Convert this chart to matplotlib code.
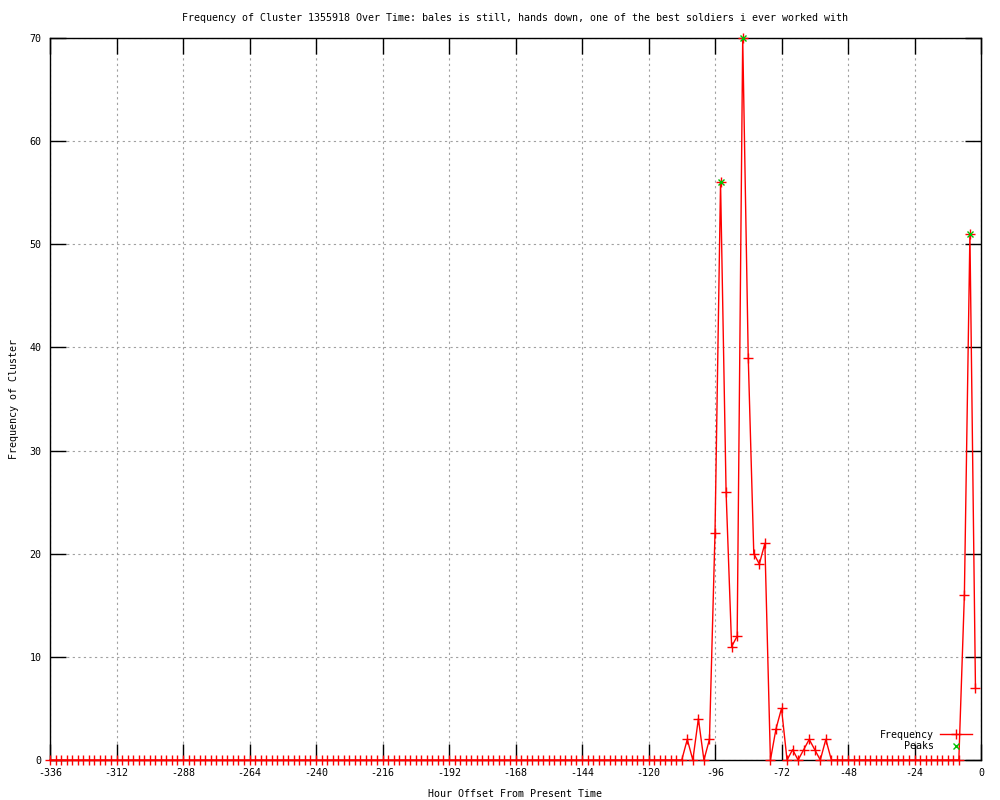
"""Frequency of a cluster over time, gnuplot-style line chart."""
import numpy as np
import matplotlib
matplotlib.use("Agg")
import matplotlib.pyplot as plt

plt.rcParams.update({
    "font.family": "DejaVu Sans Mono",
    "font.size": 7.2,
    "axes.unicode_minus": False,
})

TITLE = ("Frequency of Cluster 1355918 Over Time: bales is still, hands down, "
         "one of the best soldiers i ever worked with")

# hour offsets, every 2 hours from -336 to -2
hours = list(range(-336, 0, 2))

# one row per 24 hours
freq = [
    0, 0, 0, 0, 0, 0, 0, 0, 0, 0, 0, 0,        # -336 .. -314
    0, 0, 0, 0, 0, 0, 0, 0, 0, 0, 0, 0,        # -312 .. -290
    0, 0, 0, 0, 0, 0, 0, 0, 0, 0, 0, 0,        # -288 .. -266
    0, 0, 0, 0, 0, 0, 0, 0, 0, 0, 0, 0,        # -264 .. -242
    0, 0, 0, 0, 0, 0, 0, 0, 0, 0, 0, 0,        # -240 .. -218
    0, 0, 0, 0, 0, 0, 0, 0, 0, 0, 0, 0,        # -216 .. -194
    0, 0, 0, 0, 0, 0, 0, 0, 0, 0, 0, 0,        # -192 .. -170
    0, 0, 0, 0, 0, 0, 0, 0, 0, 0, 0, 0,        # -168 .. -146
    0, 0, 0, 0, 0, 0, 0, 0, 0, 0, 0, 0,        # -144 .. -122
    0, 0, 0, 0, 0, 0, 0, 2, 0, 4, 0, 2,        # -120 .. -98
    22, 56, 26, 11, 12, 70, 39, 20, 19, 21, 0, 3,  # -96 .. -74
    5, 0, 1, 0, 1, 2, 1, 0, 2, 0, 0, 0,        # -72 .. -50
    0, 0, 0, 0, 0, 0, 0, 0, 0, 0, 0, 0,        # -48 .. -26
    0, 0, 0, 0, 0, 0, 0, 0, 0, 16, 51, 7,      # -24 .. -2
]

peak_hours = [-94, -86, -4]
peak_freq = [56, 70, 51]

x_ticks = list(range(-336, 1, 24))
y_ticks = list(range(0, 71, 10))

fig = plt.figure(figsize=(10, 8), dpi=100)
ax = fig.add_axes([0.05, 0.05, 0.931, 0.9025])

ax.plot(hours, freq, color="#ff0000", linewidth=1.0, marker="+",
        markersize=7, markeredgewidth=1.0, label="Frequency", clip_on=False,
        zorder=3)
ax.plot(peak_hours, peak_freq, linestyle="none", color="#00c000", marker="x",
        markersize=5, markeredgewidth=1.0, label="Peaks", clip_on=False,
        zorder=4)

ax.set_xlim(-336, 0)
ax.set_ylim(0, 70)
ax.set_xticks(x_ticks)
ax.set_yticks(y_ticks)
ax.tick_params(direction="in", length=11.5, width=1.0, top=True, right=True,
               labelsize=7.2, pad=6)
ax.grid(color="#a0a0a0", linestyle=(0, (2, 3)), linewidth=0.8)
for sp in ax.spines.values():
    sp.set_linewidth(1.0)

ax.set_title(TITLE, fontsize=7.2, pad=12)
ax.set_xlabel("Hour Offset From Present Time", labelpad=8)
ax.set_ylabel("Frequency of Cluster", labelpad=8)

ax.legend(loc="lower right", frameon=False, markerfirst=False,
          handlelength=3.2, labelspacing=0.15, borderaxespad=0.5,
          handletextpad=0.6, fontsize=7.2)

fig.savefig("out.png", dpi=100)
